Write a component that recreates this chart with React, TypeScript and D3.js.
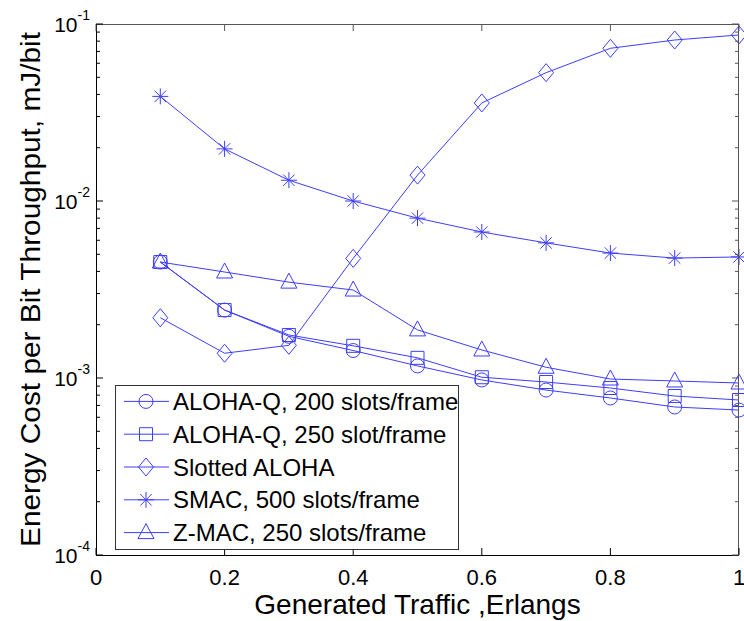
import React from "react";
import * as d3 from "d3";

const traffic = [0.1, 0.2, 0.3, 0.4, 0.5, 0.6, 0.7, 0.8, 0.9, 1.0];

const alohaQ200 = [0.00452, 0.00242, 0.00172, 0.00143, 0.00117, 0.000975, 0.000855, 0.000771, 0.000686, 0.000659];
const alohaQ250 = [0.00452, 0.00242, 0.00175, 0.00152, 0.0013, 0.00101, 0.000949, 0.000878, 0.000791, 0.000751];
const slottedAloha = [0.00219, 0.00138, 0.00153, 0.00474, 0.014, 0.0358, 0.0531, 0.0729, 0.0812, 0.0867];
const smac = [0.039, 0.0197, 0.0131, 0.01, 0.008, 0.00668, 0.0058, 0.00508, 0.00476, 0.00483];
const zmac = [0.00452, 0.00397, 0.00348, 0.00314, 0.00187, 0.00144, 0.00115, 0.000987, 0.000962, 0.000937];

const seriesNames = [
  "ALOHA-Q, 200 slots/frame",
  "ALOHA-Q, 250 slot/frame",
  "Slotted ALOHA",
  "SMAC, 500 slots/frame",
  "Z-MAC, 250 slots/frame",
];
const markers = ["circle", "square", "diamond", "star", "triangle"];
const xTicks = [0, 0.2, 0.4, 0.6, 0.8, 1];
const yExponents = [-1, -2, -3, -4];

const W = 744;
const H = 621;
const M = { left: 96, right: 5, top: 24, bottom: 66 };
const BLUE = "#3d3dff";

const markerPath = (kind: string) => {
  switch (kind) {
    case "circle":
      return "M7,0A7,7 0 1,1 -7,0A7,7 0 1,1 7,0Z";
    case "square":
      return "M-6.5,-6.5H6.5V6.5H-6.5Z";
    case "diamond":
      return "M0,-9L7.5,0L0,9L-7.5,0Z";
    case "triangle":
      return "M0,-9L8,6H-8Z";
    default:
      return "M-8,0H8M0,-8V8M-5.7,-5.7L5.7,5.7M-5.7,5.7L5.7,-5.7";
  }
};

const App = () => {
  const innerW = W - M.left - M.right;
  const innerH = H - M.top - M.bottom;
  const x = d3.scaleLinear().domain([0, 1]).range([M.left, M.left + innerW]);
  const y = d3.scaleLog().domain([1e-4, 1e-1]).range([M.top + innerH, M.top]);

  const all = [alohaQ200, alohaQ250, slottedAloha, smac, zmac];
  const line = d3
    .line<number>()
    .x((_, i) => x(traffic[i]))
    .y((d) => y(d));

  // minor ticks for each decade
  const minor: number[] = [];
  for (let e = -4; e < -1; e++) {
    for (let k = 2; k <= 9; k++) minor.push(k * Math.pow(10, e));
  }

  const x0 = M.left;
  const x1 = M.left + innerW;
  const y0 = M.top + innerH;
  const y1 = M.top;

  const leg = { x: 115, y: 385, w: 343, h: 164 };
  const rowH = leg.h / 5;

  return (
    <svg
      width={W}
      height={H}
      style={{ position: "absolute", left: 0, top: 0, background: "#fff" }}
      fontFamily="'Liberation Sans', Arial, sans-serif"
    >
      <rect width={W} height={H} fill="#fff" />
      {/* series */}
      {all.map((vals, s) => (
        <g key={s}>
          <path d={line(vals) || ""} fill="none" stroke={BLUE} strokeWidth={1} />
          {vals.map((v, i) => (
            <path
              key={i}
              d={markerPath(markers[s])}
              transform={`translate(${x(traffic[i])},${y(v)})`}
              fill="none"
              stroke={BLUE}
              strokeWidth={1}
            />
          ))}
        </g>
      ))}

      {/* axes box */}
      <line x1={x0} x2={x1} y1={y1 + 0.5} y2={y1 + 0.5} stroke="#555" />
      <line x1={x1 - 0.5} x2={x1 - 0.5} y1={y1} y2={y0} stroke="#555" />
      <line x1={x0 + 0.5} x2={x0 + 0.5} y1={y1} y2={y0} stroke="#000" />
      <line x1={x0} x2={x1} y1={y0 + 0.5} y2={y0 + 0.5} stroke="#000" />

      {/* x ticks */}
      {xTicks.map((t) => (
        <g key={t}>
          <line x1={x(t)} x2={x(t)} y1={y0} y2={y0 - 7} stroke="#000" />
          <line x1={x(t)} x2={x(t)} y1={y1} y2={y1 + 7} stroke="#555" />
          <text x={x(t)} y={y0 + 30} fontSize={22} textAnchor="middle">
            {t}
          </text>
        </g>
      ))}

      {/* y ticks */}
      {yExponents.map((e) => {
        const yy = y(Math.pow(10, e));
        return (
          <g key={e}>
            <line x1={x0} x2={x0 + 7} y1={yy} y2={yy} stroke="#000" />
            <line x1={x1} x2={x1 - 7} y1={yy} y2={yy} stroke="#555" />
            <text x={x0 - 6} y={yy + 8} fontSize={21} textAnchor="end">
              10
              <tspan dy={-12} fontSize={14}>
                {e}
              </tspan>
            </text>
          </g>
        );
      })}
      {minor.map((m) => (
        <g key={m}>
          <line x1={x0} x2={x0 + 4} y1={y(m)} y2={y(m)} stroke="#000" />
          <line x1={x1} x2={x1 - 4} y1={y(m)} y2={y(m)} stroke="#555" />
        </g>
      ))}

      {/* axis titles */}
      <text x={(x0 + x1) / 2} y={614} fontSize={28} textAnchor="middle">
        Generated Traffic ,Erlangs
      </text>
      <text
        transform={`translate(40,${(y0 + y1) / 2}) rotate(-90)`}
        fontSize={28}
        textAnchor="middle"
        textLength={515}
        lengthAdjust="spacingAndGlyphs"
      >
        Energy Cost per Bit Throughput, mJ/bit
      </text>

      {/* legend */}
      <rect x={leg.x + 0.5} y={leg.y + 0.5} width={leg.w} height={leg.h} fill="#fff" stroke="#333" />
      {seriesNames.map((name, s) => {
        const cy = leg.y + rowH * (s + 0.5);
        return (
          <g key={name}>
            <line x1={leg.x + 9} x2={leg.x + 54} y1={cy} y2={cy} stroke={BLUE} />
            <path
              d={markerPath(markers[s])}
              transform={`translate(${leg.x + 31},${cy})`}
              fill="none"
              stroke={BLUE}
            />
            <text x={leg.x + 58} y={cy + 8.5} fontSize={24}>
              {name}
            </text>
          </g>
        );
      })}
    </svg>
  );
};

export default App;
